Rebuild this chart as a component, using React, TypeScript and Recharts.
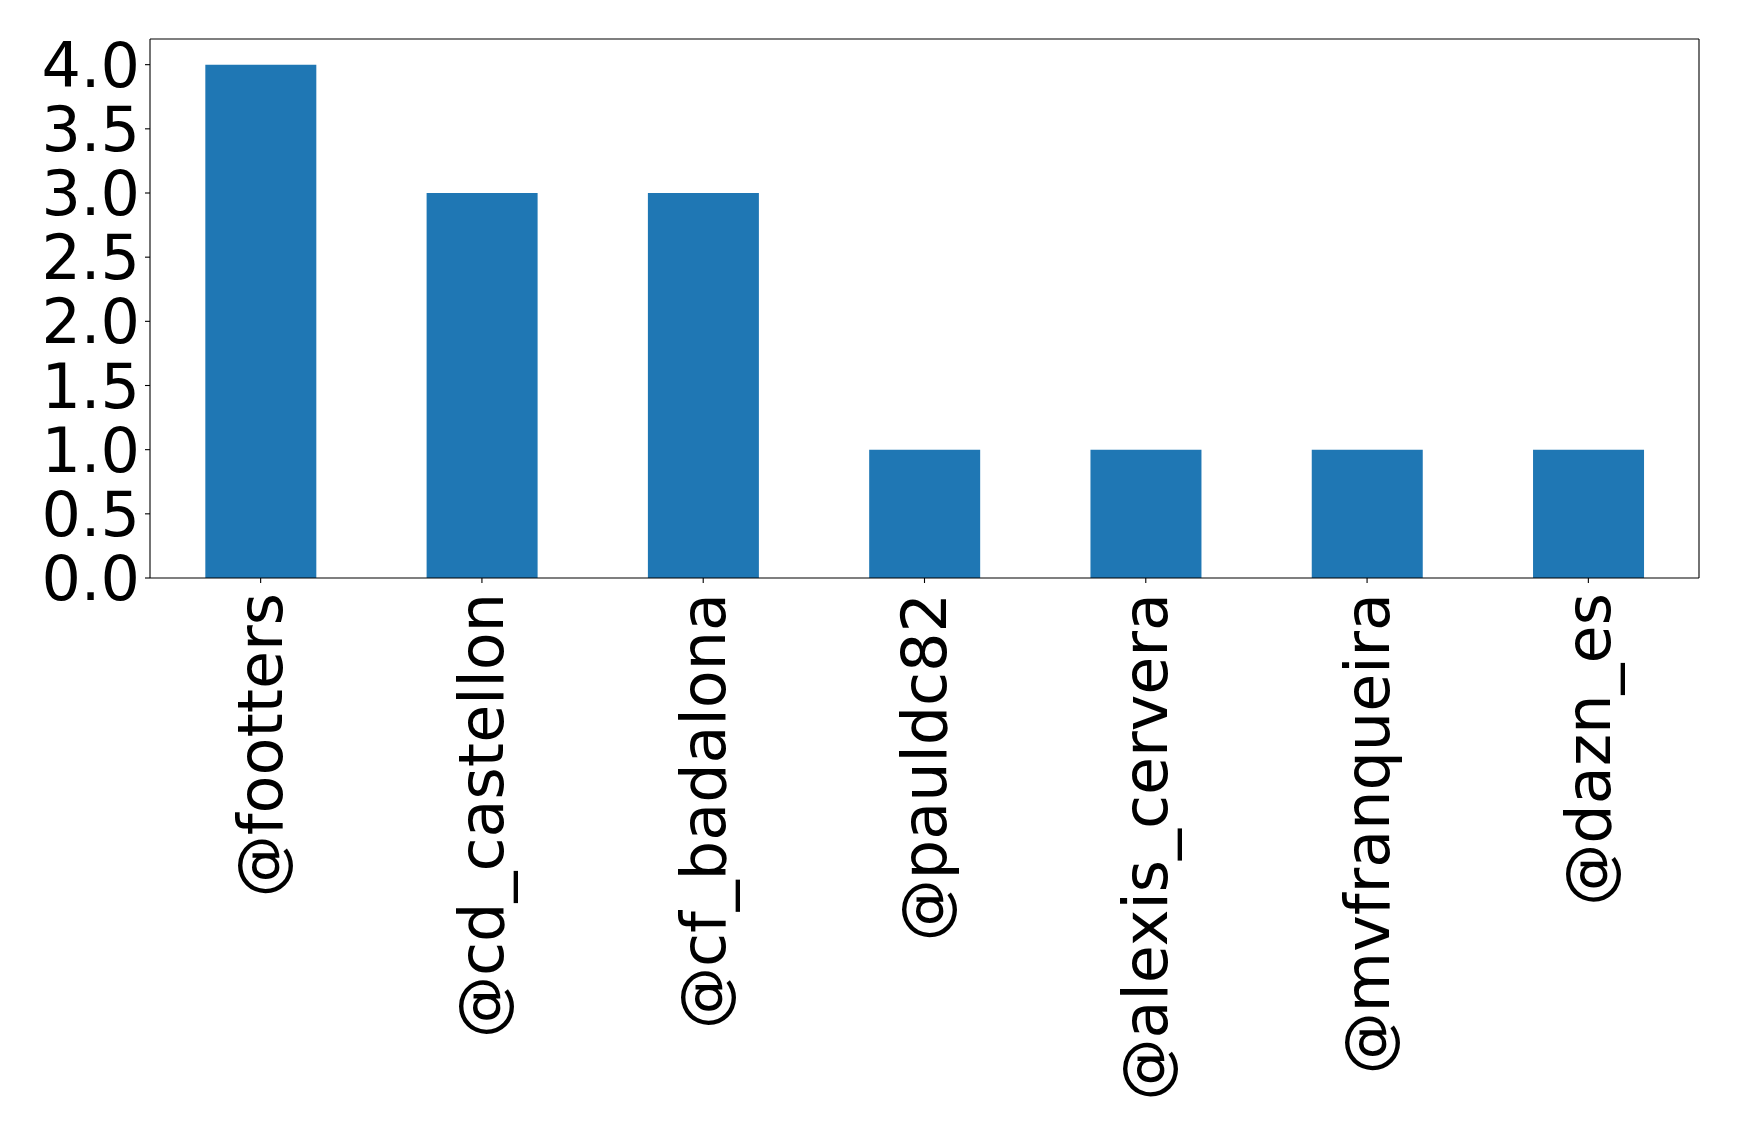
import { BarChart, Bar, XAxis, YAxis, CartesianGrid } from "recharts";

const handles = [
  "@footters",
  "@cd_castellon",
  "@cf_badalona",
  "@pauldc82",
  "@alexis_cervera",
  "@mvfranqueira",
  "@dazn_es",
];
const mentions = [4, 3, 3, 1, 1, 1, 1];
const yTicks = [0, 0.5, 1, 1.5, 2, 2.5, 3, 3.5, 4];

const FONT = "DejaVu Sans";
const BLUE = "#1f77b4";

const chartData = handles.map((name, i) => ({ name, value: mentions[i] }));

function HandleTick(props: any) {
  const { x, y, payload } = props;
  const ty = y + 8;
  return (
    <text
      x={x}
      y={ty}
      transform={`rotate(-90, ${x}, ${ty})`}
      textAnchor="end"
      dominantBaseline="central"
      fontFamily={FONT}
      fontSize={62}
      fill="#000"
    >
      {payload.value}
    </text>
  );
}

export default function App() {
  return (
    <>
      <style>{`body{margin:0;background:#fff}`}</style>
      <BarChart
        width={1739}
        height={1140}
        data={chartData}
        margin={{ top: 39, right: 40, left: 0, bottom: 0 }}
        barCategoryGap="25%"
      >
        {/* top and right edges of the frame */}
        <CartesianGrid
          stroke="#000"
          strokeWidth={1.1}
          horizontalCoordinatesGenerator={({ offset }: any) => [offset.top]}
          verticalCoordinatesGenerator={({ offset }: any) => [
            offset.left + offset.width,
          ]}
        />
        <XAxis
          dataKey="name"
          interval={0}
          height={562}
          stroke="#000"
          tick={<HandleTick />}
          tickSize={5}
          tickLine={{ stroke: "#000", strokeWidth: 1.1 }}
          axisLine={{ stroke: "#000", strokeWidth: 1.1 }}
        />
        <YAxis
          width={150}
          domain={[0, 4.2]}
          ticks={yTicks}
          interval={0}
          stroke="#000"
          tickSize={5}
          tickMargin={5}
          tickFormatter={(v: number) => v.toFixed(1)}
          tick={{ fontFamily: FONT, fontSize: 62, fill: "#000" }}
          tickLine={{ stroke: "#000", strokeWidth: 1.1 }}
          axisLine={{ stroke: "#000", strokeWidth: 1.1 }}
        />
        <Bar dataKey="value" fill={BLUE} isAnimationActive={false} />
      </BarChart>
    </>
  );
}
